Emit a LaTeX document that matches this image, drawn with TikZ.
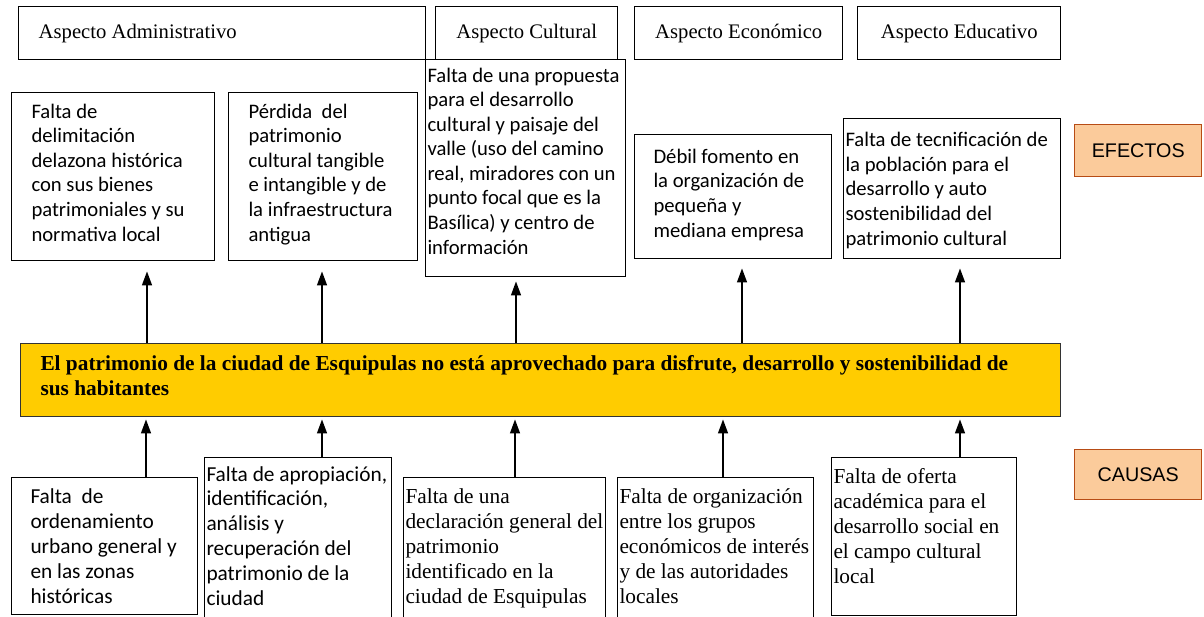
\documentclass[tikz,border=0pt]{standalone}
\usepackage{fontspec}
\setmainfont{Liberation Serif}
\newfontfamily\candfont{Carlito}
\newfontfamily\arialfont{Liberation Sans}
\usetikzlibrary{arrows.meta,calc}

\tikzset{every picture/.style={line width=0.75pt}}
\tikzset{
  caja/.style={draw, line width=1.1pt, inner sep=0pt, anchor=north west},
  aspecto/.style={caja, font=\fontsize{15.5}{18}\selectfont},
  txtsans/.style={anchor=base west, inner sep=0pt, align=left, font=\candfont\fontsize{15.5}{18.4}\selectfont},
  txtsansc/.style={txtsans, font=\candfont\fontsize{16}{18.6}\selectfont},
  txtserif/.style={anchor=base west, inner sep=0pt, align=left, font=\fontsize{16}{18.6}\selectfont},
  etiqueta/.style={caja, draw={rgb, 255:red, 183; green, 76; blue, 21 }, fill={rgb, 255:red, 251; green, 203; blue, 155 }, font=\arialfont\fontsize{14.8}{17}\selectfont},
  arr/.style={-{Triangle[length=10.5pt,width=7.5pt]}, line width=1.1pt}
}

\begin{document}
\begin{tikzpicture}[x=0.75pt,y=0.75pt,yscale=-1,xscale=1]
		\useasboundingbox (0,0) rectangle (1204,617);
		
		%Shape: Rectangle [aspectos]
		\node (adm) [aspecto, minimum width=305.25pt, minimum height=39.75pt, text width=275.25pt, align=flush left, inner xsep=15pt] at (18,6) {Aspecto Administrativo};
		\node (cul) [aspecto, minimum width=136.5pt, minimum height=39.75pt] at (435,6) {Aspecto Cultural};
		\node (eco) [aspecto, minimum width=156pt, minimum height=39.75pt] at (634,6) {Aspecto Económico};
		\node (edu) [aspecto, minimum width=152.25pt, minimum height=39.75pt] at (857,6) {Aspecto Educativo};
		
		%Shape: Rectangle [efectos]
		\node (e1) [caja, minimum width=152.25pt, minimum height=126pt] at (11,92) {};
		\node (e2) [caja, minimum width=141.75pt, minimum height=126pt] at (228,92) {};
		\node (e3) [caja, minimum width=150pt, minimum height=162.75pt] at (425,59) {};
		\node (e4) [caja, minimum width=147.75pt, minimum height=93pt] at (634,134) {};
		\node (e5) [caja, minimum width=162.75pt, minimum height=105pt] at (843,118) {};
		% Text Node (anchored at the last baseline)
		\node (e1t) [txtsans] at ($(e1.north west)+(20,149)$) {Falta de\\delimitación\\delazona histórica\\con sus bienes\\patrimoniales y su\\normativa local};
		% Text Node
		\node (e2t) [txtsans] at ($(e2.north west)+(20,149)$) {Pérdida~ del\\patrimonio\\cultural tangible\\e intangible y de\\la infraestructura\\antigua};
		% Text Node
		\node (e3t) [txtsans] at ($(e3.north west)+(2,195)$) {Falta de una propuesta\\para el desarrollo\\cultural y paisaje del\\valle (uso del camino\\real, miradores con un\\punto focal que es la\\Basílica) y centro de\\información};
		% Text Node
		\node (e4t) [txtsans] at ($(e4.north west)+(19,103)$) {Débil fomento en\\la organización de\\pequeña y\\mediana empresa};
		% Text Node
		\node (e5t) [txtsans] at ($(e5.north west)+(2,127)$) {Falta de tecnificación de\\la población para el\\desarrollo y auto\\sostenibilidad del\\patrimonio cultural};
		
		%Shape: Rectangle [problema central]
		\node (bar) [caja, draw={rgb, 255:red, 51; green, 51; blue, 51 }, fill={rgb, 255:red, 255; green, 204; blue, 0 }, minimum width=780pt, minimum height=54.75pt] at (20,343) {};
		% Text Node
		\node (bart) [txtserif, font=\bfseries\fontsize{16}{18.75}\selectfont] at ($(bar.north west)+(20,52)$) {El patrimonio de la ciudad de Esquipulas no está aprovechado para disfrute, desarrollo y sostenibilidad de\\sus habitantes};
		
		%Shape: Rectangle [causas]
		\node (c1) [caja, minimum width=139.5pt, minimum height=102.75pt] at (11,477) {};
		\node (c2) [caja, minimum width=140.25pt, minimum height=129.75pt] at (204,457) {};
		\node (c3) [caja, minimum width=151.5pt, minimum height=114.75pt] at (403,477) {};
		\node (c4) [caja, minimum width=147pt, minimum height=114.75pt] at (617,477) {};
		\node (c5) [caja, minimum width=138.75pt, minimum height=118.5pt] at (831,457) {};
		% Text Node
		\node (c1t) [txtsansc] at ($(c1.north west)+(19,126)$) {Falta~ de\\ordenamiento\\urbano general y\\en las zonas\\históricas};
		% Text Node
		\node (c2t) [txtsansc] at ($(c2.north west)+(2,148)$) {Falta de apropiación,\\identificación,\\análisis y\\recuperación del\\patrimonio de la\\ciudad};
		% Text Node
		\node (c3t) [txtserif] at ($(c3.north west)+(2,126)$) {Falta de una\\declaración general del\\patrimonio\\identificado en la\\ciudad de Esquipulas};
		% Text Node
		\node (c4t) [txtserif] at ($(c4.north west)+(2,126)$) {Falta de organización\\entre los grupos\\económicos de interés\\y de las autoridades\\locales};
		% Text Node
		\node (c5t) [txtserif] at ($(c5.north west)+(2,126)$) {Falta de oferta\\académica para el\\desarrollo social en\\el campo cultural\\local};
		
		%Shape: Rectangle [etiquetas]
		\node (efectos) [etiqueta, minimum width=95.25pt, minimum height=39pt] at (1074,124) {EFECTOS};
		\node (causas) [etiqueta, minimum width=95.25pt, minimum height=37.5pt] at (1074,449) {CAUSAS};
		
		%Straight Lines [problema -> efectos]
		\draw [arr, shorten >=7.5pt] (bar.north -| 147,0) -- (e1.south -| 147,0);
		\draw [arr, shorten >=7.5pt] (bar.north -| 322,0) -- (e2.south -| 322,0);
		\draw [arr, shorten >=3pt] (bar.north -| 516,0) -- (e3.south -| 516,0);
		\draw [arr, shorten >=6.75pt] (bar.north -| 742,0) -- (e4.south -| 742,0);
		\draw [arr, shorten >=6.75pt] (bar.north -| 960,0) -- (e5.south -| 960,0);
		%Straight Lines [causas -> problema]
		\draw [arr, shorten >=1.5pt] (c1.north -| 146,0) -- (bar.south -| 146,0);
		\draw [arr, shorten >=1.5pt] (c2.north -| 322,0) -- (bar.south -| 322,0);
		\draw [arr, shorten >=1.5pt] (c3.north -| 515,0) -- (bar.south -| 515,0);
		\draw [arr, shorten >=1.5pt] (c4.north -| 723,0) -- (bar.south -| 723,0);
		\draw [arr, shorten >=1.5pt] (c5.north -| 960,0) -- (bar.south -| 960,0);
		
	\end{tikzpicture}
\end{document}
